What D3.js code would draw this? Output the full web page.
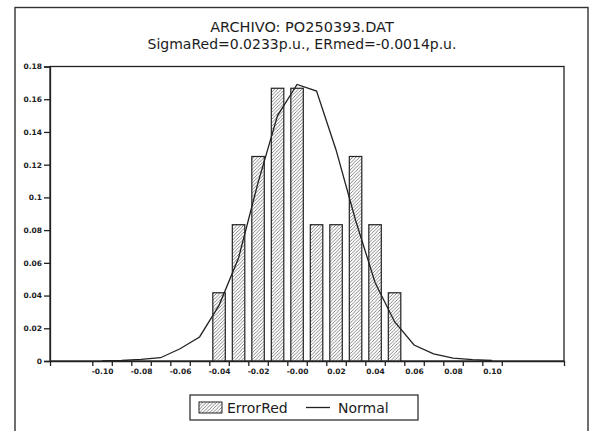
<!DOCTYPE html>
<html>
<head>
<meta charset="utf-8">
<script src="https://cdnjs.cloudflare.com/ajax/libs/d3/7.8.5/d3.min.js"></script>
<style>
  body { margin: 0; background: #fff; }
  svg text { font-family: "DejaVu Sans", sans-serif; fill: #1c1c1c; }
  .axis text { font-size: 7.5px; font-weight: bold; }
  .axis path, .axis line { stroke: #222; stroke-width: 1.3; }
</style>
</head>
<body>
<svg id="svg" width="594" height="431"></svg>
<script>
  // histogram classes (centre) and relative frequency
  let binCenters = [-0.04, -0.03, -0.02, -0.01, 0.00, 0.01, 0.02, 0.03, 0.04, 0.05];
  let errorRed = [0.0417, 0.0833, 0.125, 0.1667, 0.1667, 0.0833, 0.0833, 0.125, 0.0833, 0.0417];

  // normal curve, points
  let normalX = [-0.10, -0.09, -0.08, -0.07, -0.06, -0.05, -0.04, -0.03, -0.02, -0.01, 0.00,
                 0.01, 0.02, 0.03, 0.04, 0.05, 0.06, 0.07, 0.08, 0.09, 0.10];
  let normalY = [0.0001, 0.0003, 0.001, 0.002, 0.0075, 0.0147, 0.034, 0.063, 0.109, 0.150, 0.169,
                 0.165, 0.129, 0.086, 0.048, 0.024, 0.0098, 0.0043, 0.0018, 0.0008, 0.0003];

  let yTicks = [0, 0.02, 0.04, 0.06, 0.08, 0.1, 0.12, 0.14, 0.16, 0.18];
  let yTickLabels = ["0", "0.02", "0.04", "0.06", "0.08", "0.1", "0.12", "0.14", "0.16", "0.18"];
  let xLabelValues = [-0.10, -0.08, -0.06, -0.04, -0.02, 0.00, 0.02, 0.04, 0.06, 0.08, 0.10];
  let xLabels = ["-0.10", "-0.08", "-0.06", "-0.04", "-0.02", "-0.00", "0.02", "0.04", "0.06", "0.08", "0.10"];
  let xTickValues = [-0.105, -0.095, -0.085, -0.075, -0.065, -0.055, -0.045, -0.035, -0.025, -0.015, -0.005,
                     0.005, 0.015, 0.025, 0.035, 0.045, 0.055, 0.065, 0.075, 0.085, 0.095, 0.105];

  let title1 = "ARCHIVO: PO250393.DAT";
  let title2 = "SigmaRed=0.0233p.u., ERmed=-0.0014p.u.";

  let svg = d3.select("#svg");
  let plotL = 50, plotR = 564, plotT = 66.5, plotB = 361;

  let x = d3.scaleLinear().domain([-0.1267, 0.1369]).range([plotL, plotR]);
  let y = d3.scaleLinear().domain([0, 0.18]).range([plotB, plotT]);

  // hatch pattern for bars
  let defs = svg.append("defs");
  let pat = defs.append("pattern")
    .attr("id", "hatch")
    .attr("patternUnits", "userSpaceOnUse")
    .attr("width", 3.4).attr("height", 3.4);
  pat.append("rect").attr("width", 3.4).attr("height", 3.4).attr("fill", "#fff");
  pat.append("path")
    .attr("d", "M-1,1 L1,-1 M0,3.4 L3.4,0 M2.4,4.4 L4.4,2.4")
    .attr("stroke", "#666").attr("stroke-width", 0.8);

  // outer frame
  svg.append("rect")
    .attr("x", 15).attr("y", 7.5).attr("width", 573).attr("height", 440)
    .attr("fill", "none").attr("stroke", "#333").attr("stroke-width", 1.4);

  // titles
  svg.append("text").attr("x", 302).attr("y", 31.5)
    .attr("text-anchor", "middle").style("font-size", "14.5px").text(title1);
  svg.append("text").attr("x", 302).attr("y", 48.5)
    .attr("text-anchor", "middle").style("font-size", "14px").text(title2);

  // plot frame
  svg.append("rect")
    .attr("x", plotL).attr("y", plotT).attr("width", plotR - plotL).attr("height", plotB - plotT)
    .attr("fill", "none").attr("stroke", "#222").attr("stroke-width", 1.3);

  // bars
  let barW = x(0.0064) - x(0);
  svg.append("g").selectAll("rect")
    .data(errorRed)
    .enter()
    .append("rect")
    .attr("x", function (d, i) { return x(binCenters[i]) - barW / 2; })
    .attr("y", function (d) { return y(d); })
    .attr("width", barW)
    .attr("height", function (d) { return y(0) - y(d); })
    .attr("fill", "url(#hatch)")
    .attr("stroke", "#222")
    .attr("stroke-width", 1.2);

  // normal curve
  let line = d3.line()
    .x(function (d, i) { return x(normalX[i]); })
    .y(function (d) { return y(d); });
  svg.append("path")
    .datum(normalY)
    .attr("d", line)
    .attr("fill", "none")
    .attr("stroke", "#222")
    .attr("stroke-width", 1.3);

  // y axis
  svg.append("g")
    .attr("class", "axis")
    .attr("transform", "translate(" + plotL + ",0)")
    .call(d3.axisLeft(y).tickValues(yTicks).tickSize(6).tickPadding(2)
      .tickFormat(function (d, i) { return yTickLabels[i]; }));

  // x axis: ticks at class limits, labels at even values
  svg.append("g")
    .attr("class", "axis")
    .attr("transform", "translate(0," + plotB + ")")
    .call(d3.axisBottom(x).tickValues(xTickValues).tickSize(5).tickFormat(""));
  let xl = svg.append("g")
    .attr("class", "axis")
    .attr("transform", "translate(0," + plotB + ")")
    .call(d3.axisBottom(x).tickValues(xLabelValues).tickSize(0).tickPadding(8)
      .tickFormat(function (d, i) { return xLabels[i]; }));
  xl.select(".domain").remove();

  // legend
  let lg = svg.append("g");
  lg.append("rect").attr("x", 190).attr("y", 395).attr("width", 228).attr("height", 25)
    .attr("fill", "#fff").attr("stroke", "#333").attr("stroke-width", 1.3);
  lg.append("rect").attr("x", 199).attr("y", 402).attr("width", 23).attr("height", 11)
    .attr("fill", "url(#hatch)").attr("stroke", "#222").attr("stroke-width", 1);
  lg.append("text").attr("x", 227).attr("y", 413).style("font-size", "14px").text("ErrorRed");
  lg.append("line").attr("x1", 306).attr("x2", 330).attr("y1", 407.5).attr("y2", 407.5)
    .attr("stroke", "#222").attr("stroke-width", 1.3);
  lg.append("text").attr("x", 338).attr("y", 413).style("font-size", "14px").text("Normal");
</script>
</body>
</html>
